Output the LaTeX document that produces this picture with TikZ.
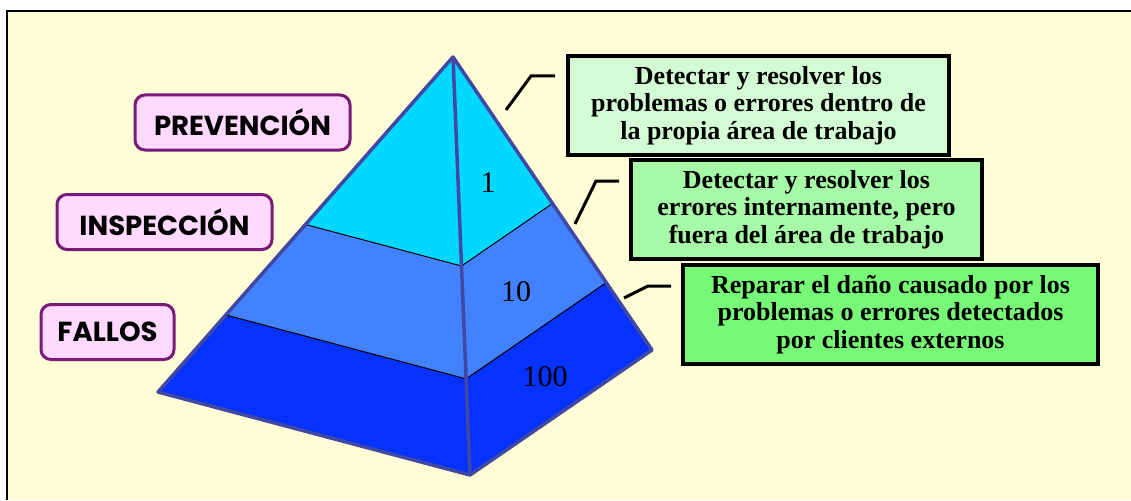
\documentclass[tikz,border=0pt]{standalone}
\usepackage{fontspec}
\setmainfont{Liberation Serif}
\newfontfamily\labelfont{Poppins}
\usetikzlibrary{calc}
\definecolor{bgyellow}{HTML}{FFFDD6}
\definecolor{toplayer}{HTML}{00D8FF}
\definecolor{midlayer}{HTML}{4382FF}
\definecolor{botlayer}{HTML}{0532FF}
\definecolor{edgeblue}{HTML}{4048A4}
\definecolor{pinkfill}{HTML}{FFD9FF}
\definecolor{purpleedge}{HTML}{7A1A78}
\definecolor{greenA}{HTML}{D4FCD4}
\definecolor{greenB}{HTML}{A6F9A6}
\definecolor{greenC}{HTML}{77F977}
\tikzset{
  levelbox/.style={draw=purpleedge, line width=3pt, fill=pinkfill, rounded corners=10pt,
    minimum height=55pt, inner sep=0pt, font=\labelfont\bfseries\fontsize{27.5}{30}\selectfont},
  notebox/.style={draw=black, line width=3.5pt, minimum height=99pt, inner sep=0pt,
    align=center, font=\bfseries\fontsize{26}{27.5}\selectfont},
  layerline/.style={draw=black, line width=1pt},
  outeredge/.style={draw=edgeblue, line width=3.5pt, line join=round},
  callout/.style={draw=black, line width=3pt},
  costlabel/.style={font=\fontsize{30}{32}\selectfont, inner sep=0pt}
}
\begin{document}
\begin{tikzpicture}[x=1pt,y=-1pt]
\useasboundingbox (0,0) rectangle (1131,500);
\fill[white] (0,0) rectangle (1131,500);
\fill[bgyellow] (7,11) rectangle (1131,500);
\draw[line width=2.5pt] (7,500) -- (7,11) -- (1131,11);

% pyramid corners
\coordinate (A) at (453,57);
\coordinate (L) at (158,392);
\coordinate (B) at (470,475);
\coordinate (R) at (652,350);
\coordinate (P1L) at ($(A)!0.5!(L)$);
\coordinate (P2L) at ($(A)!0.77!(L)$);
\coordinate (P1C) at ($(A)!0.5!(B)$);
\coordinate (P2C) at ($(A)!0.77!(B)$);
\coordinate (P1R) at ($(A)!0.5!(R)$);
\coordinate (P2R) at ($(A)!0.77!(R)$);

% layers
\fill[toplayer] (A) -- (P1L) -- (P1C) -- (P1R) -- cycle;
\fill[midlayer] (P1L) -- (P2L) -- (P2C) -- (P2R) -- (P1R) -- (P1C) -- cycle;
\fill[botlayer] (P2L) -- (L) -- (B) -- (R) -- (P2R) -- (P2C) -- cycle;
\draw[layerline] (P1L) -- (P1C) -- (P1R);
\draw[layerline] (P2L) -- (P2C) -- (P2R);
\draw[outeredge] (A) -- (L) -- (B) -- (R) -- cycle;
\draw[outeredge] (A) -- (B);

% cost numbers
\node[costlabel] (c1) at (488,183) {1};
\node[costlabel] (c10) at (516,292) {10};
\node[costlabel] (c100) at (545,377) {100};

% level labels
\node[levelbox, minimum width=215pt] (prev) at (242.5,122.5) {PREVENCIÓN};
\node[levelbox, minimum width=215pt] (insp) at (164.5,222) {INSPECCIÓN};
\node[levelbox, minimum width=133pt] (fall) at (107.5,332) {FALLOS};

% note boxes
\node[notebox, fill=greenA, minimum width=381pt] (n1) at (758.5,105.5)
  {Detectar y resolver los\\problemas o errores dentro de\\la propia área de trabajo};
\node[notebox, fill=greenB, minimum width=351pt] (n2) at (806.5,209.5)
  {Detectar y resolver los\\errores internamente, pero\\fuera del área de trabajo};
\node[notebox, fill=greenC, minimum width=415pt] (n3) at (890.5,314.5)
  {Reparar el daño causado por los\\problemas o errores detectados\\por clientes externos};

% callout connectors
\coordinate (k1a) at (506,110);
\coordinate (k1b) at (531,76);
\coordinate (k1c) at (555,76);
\coordinate (k2a) at (575,224);
\coordinate (k2b) at (596,181);
\coordinate (k2c) at (619,181);
\coordinate (k3a) at (624,298);
\coordinate (k3b) at (648,286);
\coordinate (k3c) at (671,286);
\draw[callout] (k1a) -- (k1b) -- (k1c);
\draw[callout] (k2a) -- (k2b) -- (k2c);
\draw[callout] (k3a) -- (k3b) -- (k3c);
\end{tikzpicture}
\end{document}
